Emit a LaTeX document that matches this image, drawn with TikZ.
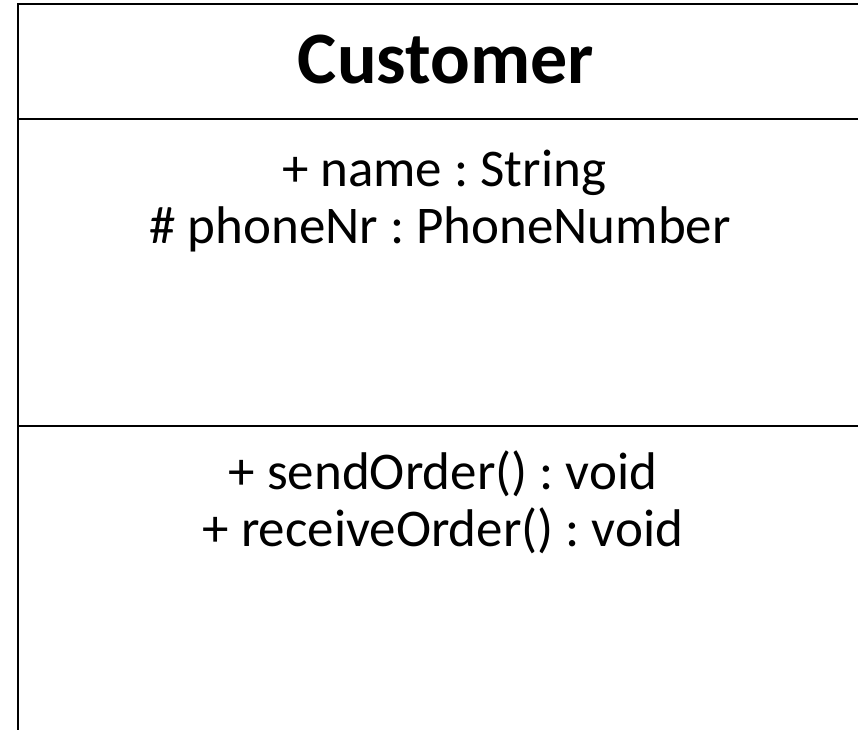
\documentclass[tikz,border=0pt]{standalone}
\usepackage{fontspec}
\setmainfont{Carlito}
\frenchspacing
\begin{document}
\begin{tikzpicture}[x=1pt,y=-1pt,
  frame/.style={line width=2pt,black},
  titletext/.style={anchor=base,inner sep=0pt,font=\fontsize{74}{88}\selectfont\bfseries},
  bodytext/.style={anchor=base,inner sep=0pt,font=\fontsize{53}{64}\selectfont}]
\useasboundingbox (0,0) rectangle (858,729);
\coordinate (tl) at (18,4);
\coordinate (tr) at (870,4);
\coordinate (bl) at (18,740);
\coordinate (s1l) at (18,119);
\coordinate (s1r) at (870,119);
\coordinate (s2l) at (18,426);
\coordinate (s2r) at (870,426);
\draw[frame] (tr) -- (tl) -- (bl);
\draw[frame] (s1l) -- (s1r);
\draw[frame] (s2l) -- (s2r);
\node[titletext] (title) at (446,83) {Customer};
\node[bodytext] (attr1) at (444,186) {+ name : String};
\node[bodytext] (attr2) at (440,243) {\# phoneNr : PhoneNumber};
\node[bodytext] (op1) at (443,489) {+ sendOrder() : void};
\node[bodytext] (op2) at (443,546) {+ receiveOrder() : void};
\end{tikzpicture}
\end{document}
